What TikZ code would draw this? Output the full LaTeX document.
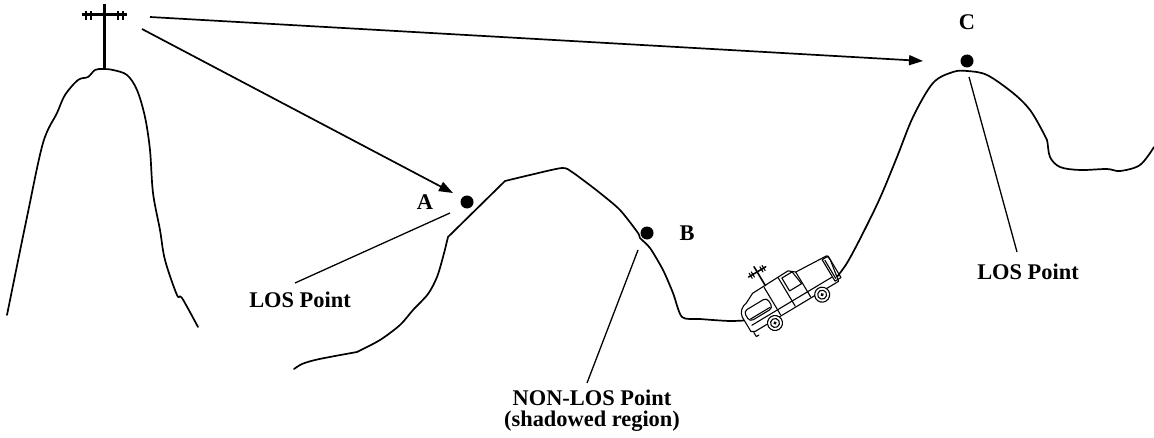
\documentclass[tikz,border=0pt]{standalone}
\usepackage{fontspec}
\setmainfont{Liberation Serif}
\usetikzlibrary{arrows.meta}
\begin{document}
\begin{tikzpicture}[x=0.5pt,y=-0.5pt,
  ridge/.style={line width=0.85pt, line join=round, line cap=round},
  ray/.style={line width=0.85pt, -{Triangle[length=7pt,width=5pt]}},
  leader/.style={line width=0.65pt},
  dot/.style={circle, fill=black, inner sep=0pt, minimum size=6.5pt},
  lbl/.style={font=\fontsize{11.2}{10.5}\selectfont\bfseries, inner sep=0pt, align=center},
  carline/.style={line width=0.55pt, line join=round, line cap=round}]
\useasboundingbox (0,0) rectangle (1154,438);

% transmitter mast on the left summit
\draw[line width=1.5pt] (104,4) -- (104,70);
\draw[line width=1.5pt] (82,15) -- (127,15);
\foreach \t in {86,91,118,123} \draw[line width=1.1pt] (\t,11) -- (\t,20);
\coordinate (tx1) at (150,17);
\coordinate (tx2) at (142,29);

% left hill
\draw[ridge] plot[smooth, tension=0.55] coordinates {
  (7,315) (27,217) (43,143) (57,113) (65,95) (78,80) (88,77) (95,70)
  (103,69) (113,70) (127,75) (137,90) (145,117) (150,150) (153,193)
  (160,230) (165,260) (177,295) (182,298) (198,327)};

% middle hill and valley floor
\draw[ridge] plot[smooth, tension=0.5] coordinates {
    (294,369) (302,364) (315,360) (335,356) (357,352)}
  -- plot[smooth, tension=0.5] coordinates {
    (357,352) (380,340) (400,325) (413,310) (428,294) (437,277) (443,257) (448,237)}
  -- (505,181)
  -- plot[smooth, tension=0.45] coordinates {
    (505,181) (530,175) (562,168) (572,172) (587,183) (600,193)
    (620,210) (638,233) (640,238) (650,248) (663,270) (673,293) (682,317)
    (700,319) (730,321) (752,320)};

% right hill
\draw[ridge] plot[smooth, tension=0.55] coordinates {
  (836,278) (847,263) (862,235) (880,198) (897,157) (913,117) (933,83)
  (953,72) (967,71) (987,75) (1013,93) (1030,110) (1043,132) (1047,140)
  (1050,157) (1060,167) (1080,170) (1107,169) (1120,171) (1140,165) (1154,147)};

% receiver points
\node[dot] (A) at (467,202) {};
\node[dot] (B) at (647,233) {};
\node[dot] (C) at (967,61) {};
\node[lbl] (labA) at (425,202) {A};
\node[lbl] (labB) at (687,233) {B};
\node[lbl] (labC) at (967,22) {C};

% radio paths
\coordinate (hitA) at (453,193);
\coordinate (hitC) at (923,61);
\draw[ray] (tx1) -- (hitC);
\draw[ray] (tx2) -- (hitA);

% captions with leader lines
\node[lbl] (losA) at (300,300) {LOS Point};
\node[lbl] (nlos) at (592,411) {NON-LOS Point\\(shadowed region)};
\node[lbl] (losC) at (1028,272) {LOS Point};
\coordinate (footA) at (450,213);
\coordinate (endA) at (295,283);
\coordinate (footB) at (638,250);
\coordinate (endB) at (587,383);
\coordinate (footC) at (969,77);
\coordinate (endC) at (1017,252);
\draw[leader] (footA) -- (endA);
\draw[leader] (footB) -- (endB);
\draw[leader] (footC) -- (endC);

% mobile station climbing the slope
\begin{scope}[shift={(775,323)}, rotate=31, x=0.5pt, y=0.5pt, carline]
  \draw[fill=white] (-25,5) -- (-25,22) .. controls (-24,28) and (-20,31) .. (-14,32)
    -- (-4,37) -- (38,38) -- (44,33) -- (79,31) -- (80,26) -- (76,3) -- (-21,3) -- cycle;
  \draw[rounded corners=2pt] (-21,14) rectangle (6,26);
  \draw (-19,16) -- (4,16);
  \draw (9,4) -- (9,36);
  \draw (26,4) -- (26,37);
  \draw (29,20) -- (29,35) -- (41,35) -- (43,20) -- cycle;
  \draw (44,4) -- (44,33);
  \draw (73,5) rectangle (80,30);
  \draw (75,7) -- (75,28);
  \draw (-21,10) -- (72,10);
  \draw (-23,3) -- (-23,-2) -- (-20,-2);
  \foreach \w in {0,55} {
    \draw[fill=white] (\w,0) circle[radius=7.5];
    \draw (\w,0) circle[radius=4.5];
    \fill (\w,0) circle[radius=1.8];
  }
  \draw[line width=0.8pt] (11,37) -- (11,59);
  \draw[line width=0.8pt] (1,53) -- (21,53);
  \foreach \t in {3.5,6,16,18.5} \draw (\t,50) -- (\t,56);
\end{scope}
\end{tikzpicture}
\end{document}
